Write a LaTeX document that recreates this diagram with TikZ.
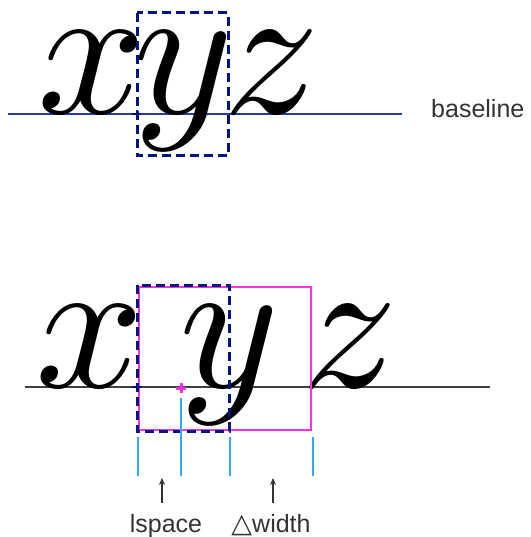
\documentclass[tikz,border=0pt]{standalone}
\usepackage{fontspec}
\newfontfamily\labfont{Liberation Sans}
\newfontfamily\symfont{DejaVu Sans}
\usetikzlibrary{arrows.meta}
\definecolor{navy}{RGB}{0,20,130}
\definecolor{topline}{RGB}{40,60,160}
\definecolor{mag}{RGB}{255,51,221}
\definecolor{cyanl}{RGB}{51,170,255}
\definecolor{baseg}{RGB}{64,64,64}
\definecolor{txt}{RGB}{51,51,51}
\begin{document}
\begin{tikzpicture}[x=1pt,y=-1pt,
  letter/.style={inner sep=0pt,anchor=base west,scale=19},
  dbox/.style={navy,line width=3pt,dash pattern=on 9pt off 5pt},
  lab/.style={inner sep=0pt,text=txt,font=\labfont\fontsize{25}{29}\selectfont},
  tick/.style={cyanl,line width=1.2pt},
  uparrow/.style={txt,line width=1.2pt,-{Stealth[length=7pt,width=6pt]}}]
\useasboundingbox (0,0) rectangle (530,537);
% top row
\draw[topline,line width=1.3pt] (8,114) -- (402,114);
\node[letter] (tx) at (34,114) {$x$};
\node[letter] (ty) at (130,114) {$y$};
\node[letter] (tz) at (220,114) {$z$};
\draw[dbox] (137,13) rectangle (228,156);
\draw[navy,line width=2pt] (132,114) -- (141,114) (136.5,110) -- (136.5,118);
\node[lab,anchor=base west] (bl) at (431,118) {baseline};
% bottom row
\draw[baseg,line width=1.5pt] (25,387) -- (490,387);
\node[letter] (bx) at (32,387) {$x$};
\node[letter] (by) at (176,387) {$y$};
\node[letter] (bz) at (298,387) {$z$};
\draw[mag,line width=1.4pt] (139,287) rectangle (311,430);
\draw[dbox] (137,285) rectangle (229,431);
\draw[navy,line width=2pt] (132,387) -- (142,387) (137,383) -- (137,391);
\draw[mag,line width=3pt] (176,388) -- (186,388) (181,383) -- (181,393);
\draw[tick] (138,437) -- (138,476);
\draw[tick] (181,398) -- (181,476);
\draw[tick] (230,437) -- (230,476);
\draw[tick] (313,437) -- (313,476);
\node[lab,anchor=base] (ls) at (166,532) {lspace};
\node[lab,anchor=base] (dw) at (271,532) {{\symfont\fontsize{27}{30}\selectfont △}width};
\coordinate (lsa) at (162,478);
\coordinate (dwa) at (273,478);
\draw[uparrow] (162,503) -- (lsa);
\draw[uparrow] (273,503) -- (dwa);
\end{tikzpicture}
\end{document}
